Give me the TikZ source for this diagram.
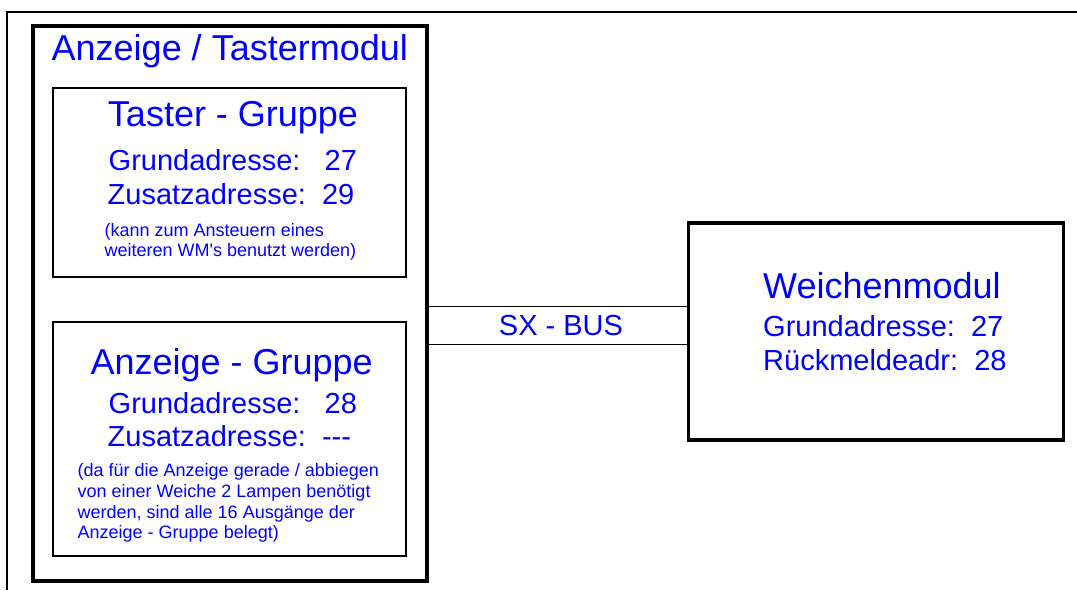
\documentclass[tikz,border=0pt]{standalone}
\usepackage{fontspec}
\newfontfamily\lsans{Liberation Sans}
\definecolor{txtblue}{RGB}{0,0,255}
\begin{document}
\begin{tikzpicture}[x=1pt,y=-1pt,
  frame/.style={line width=1.3pt},
  outerbox/.style={draw, line width=3.2pt, inner sep=0pt, outer sep=0pt, rectangle},
  innerbox/.style={draw, line width=2.4pt, inner sep=0pt, outer sep=0pt, rectangle},
  busline/.style={line width=1.3pt},
  bigtxt/.style={text=txtblue, inner sep=0pt, font=\lsans\fontsize{36}{40}\selectfont},
  midtxt/.style={text=txtblue, inner sep=0pt, font=\lsans\fontsize{29}{33}\selectfont},
  smalltxt/.style={text=txtblue, inner sep=0pt, align=left, font=\lsans\fontsize{18}{20.6}\selectfont}]
\useasboundingbox (0,0) rectangle (1077,590);
% page frame
\coordinate (fr1) at (7,590);
\coordinate (fr2) at (7,12);
\coordinate (fr3) at (1077,12);
\draw[frame] (fr1) -- (fr2) -- (fr3);
% boxes
\node[outerbox, minimum width=394pt, minimum height=555pt] (outer) at (230,303.5) {};
\node[innerbox, minimum width=353pt, minimum height=189pt] (taster) at (229.5,182.5) {};
\node[innerbox, minimum width=353pt, minimum height=234pt] (anzeige) at (229.5,439) {};
\node[outerbox, minimum width=375pt, minimum height=217pt] (weiche) at (876,331.5) {};
% bus
\draw[busline] (outer.east |- 0,306.7) -- (weiche.west |- 0,306.7);
\draw[busline] (outer.east |- 0,344.3) -- (weiche.west |- 0,344.3);
\node[midtxt, anchor=base] (bus) at (561,335.7) {SX - BUS};
% outer title
\node[bigtxt, anchor=base west] (title) at (51.5,60) {Anzeige / Tastermodul};
% taster group
\node[bigtxt, anchor=base] (tt) at (233,126.5) {Taster - Gruppe};
\node[midtxt, anchor=base west] (tga) at (108.5,170.7) {Grundadresse:\ \ \ 27};
\node[midtxt, anchor=base west] (tza) at (107.5,204) {Zusatzadresse:\ \ 29};
\node[smalltxt, anchor=north west] (tnote) at (104.5,223) {(kann zum Ansteuern eines\\weiteren WM's benutzt werden)};
% anzeige group
\node[bigtxt, anchor=base] (at) at (231.7,374) {Anzeige - Gruppe};
\node[midtxt, anchor=base west] (aga) at (108.5,413.3) {Grundadresse:\ \ \ 28};
\node[midtxt, anchor=base west] (aza) at (107.5,446.7) {Zusatzadresse:\ \ ---};
\node[smalltxt, anchor=north west] (anote) at (77.5,463.6) {(da für die Anzeige gerade / abbiegen\\von einer Weiche 2 Lampen benötigt\\werden, sind alle 16 Ausgänge der\\Anzeige - Gruppe belegt)};
% weichenmodul
\node[bigtxt, anchor=base west] (wt) at (763,298.3) {Weichenmodul};
\node[midtxt, anchor=base west] (wga) at (763,336) {Grundadresse:\ \ 27};
\node[midtxt, anchor=base west] (wra) at (763,370) {Rückmeldeadr:\ \ 28};
\end{tikzpicture}
\end{document}
